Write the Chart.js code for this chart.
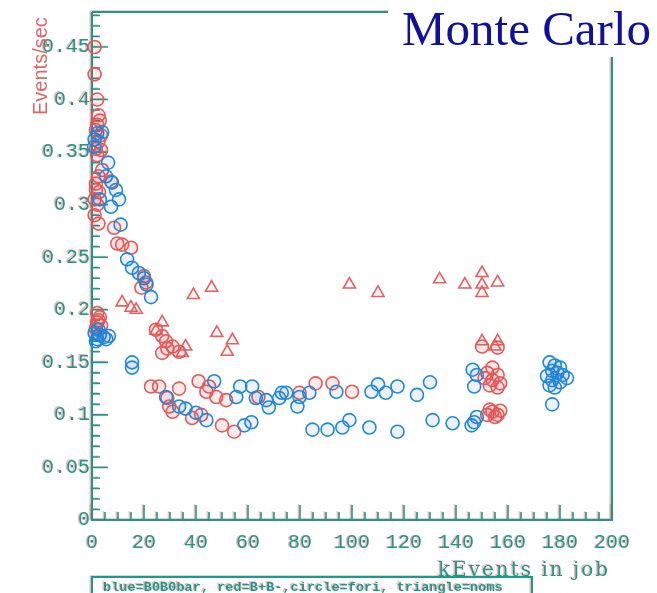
<!DOCTYPE html>
<html><head><meta charset="utf-8">
<script src="https://cdn.jsdelivr.net/npm/chart.js@4/dist/chart.umd.min.js"></script>
<style>html,body{margin:0;padding:0;background:#fff;}#wrap{width:657px;height:593px;position:relative;}</style>
</head><body><div id="wrap"><canvas id="c" width="657" height="593"></canvas></div>
<script>
// B0B0bar, fori (blue circles)
const blueX=[1.0,2.0,3.9,0.8,6.2,5.4,7.7,9.2,10.4,3.0,7.3,11,13.5,15.4,18,20,21,22.7,
 1,2,3,4.5,5.5,2.5,6.5,1.5,15.4,15.4,
 47,57,61.6,55.5,63,67,72,74.7,83.6,94,79.8,73,68,79,107.5,110,113,117.5,125,130,
 28.5,33.5,36,40,44,58.6,61.3,84.8,90.6,96.3,99,106.7,117.5,131,138.7,146,148,147,
 146.4,147,148,
 176,178,180,177,179,175,181,177,180,176,178,182.7,177];
const blueY=[0.362,0.368,0.369,0.355,0.340,0.327,0.321,0.314,0.305,0.305,0.298,0.281,0.248,0.240,0.235,0.230,0.224,0.212,
 0.178,0.172,0.176,0.174,0.172,0.181,0.175,0.170,0.150,0.145,
 0.132,0.127,0.127,0.117,0.116,0.114,0.116,0.121,0.121,0.122,0.117,0.121,0.107,0.108,0.122,0.129,0.121,0.127,0.119,0.131,
 0.117,0.108,0.106,0.102,0.095,0.090,0.093,0.086,0.086,0.088,0.095,0.088,0.084,0.095,0.092,0.090,0.098,0.093,
 0.143,0.127,0.138,
 0.150,0.147,0.145,0.142,0.140,0.137,0.138,0.133,0.131,0.128,0.126,0.135,0.110];
// B+B-, fori (red circles)
const redX=[1,1,2,2.5,3,2,1.5,3.5,2.5,1.5,3.5,2,3.9,2.5,1.5,2.7,1.5,7.3,1,2,1,2.5,8.5,9.7,11.6,15,20,20.8,19,
 2,3,2,3.5,1.5,2.5,
 24.6,28.5,27,31,27,33.5,29,
 22.7,25.8,33.5,41,44,47.8,51.6,64,79.8,86,92.5,100,45,
 29,29.7,31,38.5,50,54.7,42,
 152,154,156,154,157,153,156,151,156,150,
 152,154,156,157,155,153];
const redY=[0.450,0.424,0.400,0.385,0.380,0.376,0.371,0.366,0.360,0.353,0.352,0.347,0.333,0.327,0.320,0.312,0.314,0.322,0.305,0.300,0.290,0.282,0.278,0.263,0.262,0.259,0.232,0.226,0.221,
 0.197,0.193,0.188,0.185,0.182,0.190,
 0.181,0.170,0.175,0.165,0.159,0.160,0.163,
 0.127,0.127,0.125,0.132,0.122,0.117,0.114,0.117,0.121,0.130,0.130,0.122,0.127,
 0.116,0.108,0.103,0.097,0.090,0.084,0.100,
 0.140,0.145,0.138,0.133,0.130,0.128,0.126,0.135,0.164,0.165,
 0.100,0.103,0.100,0.104,0.098,0.105];
// noms (triangles)
const triX=[11.6,15,17,39,46,27,24.6,36,34.7,48,54,52,99,110,133.7,143.4,150,150,156,150,150,156,155];
const triY=[0.207,0.202,0.200,0.214,0.221,0.188,0.180,0.165,0.159,0.178,0.171,0.160,0.224,0.216,0.229,0.224,0.235,0.224,0.226,0.216,0.170,0.170,0.165];

const yTicks=[0,0.05,0.1,0.15,0.2,0.25,0.3,0.35,0.4,0.45];
const yTickLabels=['0','0.05','0.1','0.15','0.2','0.25','0.3','0.35','0.4','0.45'];
const xTicks=[0,20,40,60,80,100,120,140,160,180,200];
const xTickLabels=['0','20','40','60','80','100','120','140','160','180','200'];
const yTitle='Events/sec';
const xTitle='kEvents in job';
const legendText='blue=B0B0bar, red=B+B-,circle=fori, triangle=noms';
const cornerLabel='Monte Carlo';

const TEAL='#1a9a8c', FRINGE='rgba(240,90,90,0.45)';

function fringe(ctx, fn){
  ctx.save(); ctx.translate(-1.5,-0.7); fn(FRINGE); ctx.restore();
  ctx.save(); fn(TEAL); ctx.restore();
}

const deco={
  id:'deco',
  beforeDatasetsDraw(chart){
    const ctx=chart.ctx, a=chart.chartArea, xs=chart.scales.x, ys=chart.scales.y;
    fringe(ctx,(col)=>{
      ctx.strokeStyle=col; ctx.lineWidth=2;
      ctx.beginPath();
      ctx.moveTo(a.left,a.top); ctx.lineTo(a.left,a.bottom); ctx.lineTo(a.right,a.bottom); ctx.lineTo(a.right,a.top); ctx.lineTo(a.left,a.top);
      ctx.stroke();
      ctx.lineWidth=1.6;
      ctx.beginPath();
      for(let i=0;i<=48;i++){
        const py=ys.getPixelForValue(i/100);
        const len=(i%5===0)?16:8;
        ctx.moveTo(a.left,py); ctx.lineTo(a.left+len,py);
      }
      for(let v=0;v<=200;v+=5){
        const px=xs.getPixelForValue(v);
        const len=(v%20===0)?15:8;
        ctx.moveTo(px,a.bottom); ctx.lineTo(px,a.bottom-len);
      }
      ctx.stroke();
      ctx.fillStyle=col;
      ctx.font='20px "Liberation Mono", monospace';
      ctx.textAlign='right'; ctx.textBaseline='middle';
      yTicks.forEach((v,i)=>ctx.fillText(yTickLabels[i],a.left-2,ys.getPixelForValue(v)));
      ctx.textAlign='center';
      xTicks.forEach((v,i)=>ctx.fillText(xTickLabels[i],xs.getPixelForValue(v),a.bottom+23));
      // x title
      ctx.font='20px "DejaVu Serif", serif';
      ctx.textAlign='left'; ctx.textBaseline='alphabetic';
      ctx.letterSpacing='2px';
      ctx.fillText(xTitle,438,576);
      ctx.letterSpacing='0px';
      // legend box
      ctx.lineWidth=2;
      ctx.strokeRect(a.left,577,440,30);
      ctx.font='bold 13.6px "Liberation Mono", monospace';
      ctx.fillText(legendText,103,591);
    });
    // y title
    ctx.save();
    ctx.translate(47,115); ctx.rotate(-Math.PI/2);
    ctx.font='20px "Liberation Sans", sans-serif';
    ctx.fillStyle='#e06666'; ctx.textAlign='left'; ctx.textBaseline='alphabetic';
    ctx.fillText(yTitle,0,0);
    ctx.restore();
  },
  afterDraw(chart){
    const ctx=chart.ctx;
    ctx.save();
    ctx.fillStyle='#ffffff';
    ctx.fillRect(388,0,269,57);
    ctx.fillStyle='#10109e';
    ctx.font='49px "Liberation Serif", serif';
    ctx.textAlign='left'; ctx.textBaseline='alphabetic';
    ctx.fillText(cornerLabel,402,45);
    ctx.restore();
  }
};

const pts=(xs,ys)=>xs.map((x,i)=>({x:x,y:ys[i]}));

new Chart(document.getElementById('c'),{
  type:'scatter',
  data:{datasets:[
    {label:'B0B0bar fori',data:pts(blueX,blueY),pointStyle:'circle',pointRadius:6.5,borderWidth:1.6,borderColor:'#1f8ad6',backgroundColor:'rgba(40,60,220,0.08)',clip:false},
    {label:'B+B- fori',data:pts(redX,redY),pointStyle:'circle',pointRadius:6.5,borderWidth:1.6,borderColor:'#e45a5a',backgroundColor:'rgba(230,50,50,0.10)',clip:false},
    {label:'noms',data:pts(triX,triY),pointStyle:'triangle',pointRadius:7,borderWidth:1.6,borderColor:'#e06262',backgroundColor:'rgba(230,50,50,0.05)',clip:false}
  ]},
  options:{
    responsive:false,animation:false,devicePixelRatio:1,
    layout:{padding:{left:92,right:45,top:12,bottom:73}},
    scales:{
      x:{type:'linear',min:0,max:200,display:false},
      y:{type:'linear',min:0,max:0.4833,display:false}
    },
    plugins:{legend:{display:false},tooltip:{enabled:false}},
    events:[]
  },
  plugins:[deco]
});
</script></body></html>
